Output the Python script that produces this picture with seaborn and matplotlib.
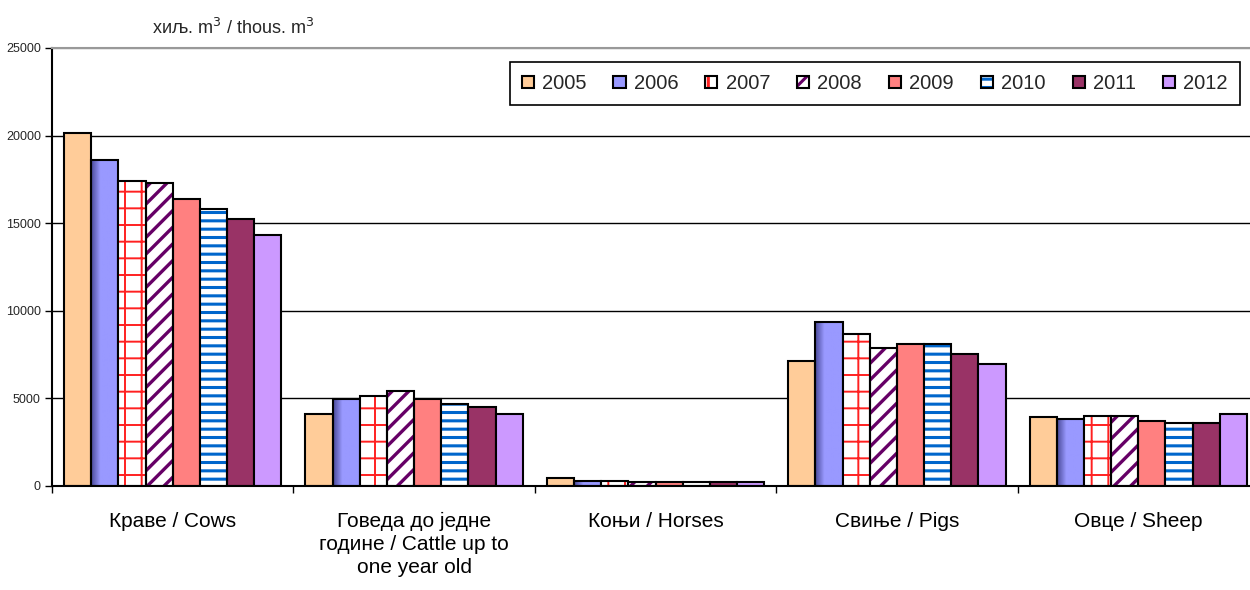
import numpy as np
import pandas as pd
import matplotlib
matplotlib.use("Agg")
import matplotlib.pyplot as plt
import matplotlib.patches as mpatches
from matplotlib.colors import LinearSegmentedColormap
import seaborn as sns

sns.set_theme(style="white")
plt.rcParams['font.family'] = ['Liberation Sans', 'DejaVu Sans']
plt.rcParams['hatch.linewidth'] = 2.2

# data (thousand m3)
categories = ['Краве / Cows',
              'Говеда до једне\nгодине / Cattle up to\none year old',
              'Коњи / Horses',
              'Свиње / Pigs',
              'Овце / Sheep']
years = ['2005', '2006', '2007', '2008', '2009', '2010', '2011', '2012']

v2005 = [20150, 4090, 440, 7150, 3960]
v2006 = [18600, 4970, 300, 9340, 3840]
v2007 = [17400, 5140, 300, 8660, 3980]
v2008 = [17310, 5420, 210, 7860, 3980]
v2009 = [16400, 4950, 210, 8100, 3730]
v2010 = [15830, 4660, 210, 8100, 3610]
v2011 = [15260, 4530, 210, 7550, 3610]
v2012 = [14340, 4090, 210, 6960, 4090]

colors = ['#FFCC99', '#9999FF', '#FFFFFF', '#FFFFFF',
          '#FF8080', '#FFFFFF', '#993366', '#CC99FF']
# hatch style per year: (pattern, line colour, line width)
hatches = {'2007': ('+', '#FF2020', 1.4),
           '2008': ('//', '#660066', 2.4),
           '2010': ('--', '#0066CC', 2.2)}

values = [v2005, v2006, v2007, v2008, v2009, v2010, v2011, v2012]
df = pd.DataFrame({
    'category': categories * len(years),
    'year': [y for y in years for _ in categories],
    'value': [v for vals in values for v in vals],
})

fig = plt.figure(figsize=(12.5, 5.9), dpi=100)
ax = fig.add_axes([52 / 1250, 104 / 590, 1207 / 1250, 438 / 590])

sns.barplot(data=df, x='category', y='value', hue='year', order=categories,
            hue_order=years, palette=colors, saturation=1, width=0.9,
            edgecolor='black', linewidth=1.5, legend=False, ax=ax)


def hatch_patch(p, h, hc, hw):
    p.set_facecolor('white')
    p.set_edgecolor(hc)
    p.set_linewidth(0)
    p.set_hatch(h)
    if hasattr(p, 'set_hatch_linewidth'):
        p.set_hatch_linewidth(hw)


# hatched bars: hatch in colour, black outline drawn on top
for year, cont in zip(years, ax.containers):
    if year in hatches:
        h, hc, hw = hatches[year]
        for bar in cont:
            hatch_patch(bar, h, hc, hw)
            ax.add_patch(mpatches.Rectangle(bar.get_xy(), bar.get_width(), bar.get_height(),
                                            fill=False, edgecolor='black', lw=1.5, zorder=1.1))

# 2006 bars have a shaded left edge
grad = LinearSegmentedColormap.from_list('g', ['#4A4A99', '#9999FF', '#9999FF', '#9999FF'])
for bar in ax.containers[1]:
    x0, y0 = bar.get_xy()
    w, hgt = bar.get_width(), bar.get_height()
    ax.imshow(np.linspace(0, 1, 64)[None, :], cmap=grad, aspect='auto',
              extent=[x0, x0 + w, y0, y0 + hgt], zorder=0.9, interpolation='bilinear')
    bar.set_facecolor('none')

ax.set_xlim(-0.5, len(categories) - 0.5)
ax.set_ylim(0, 25000)
ax.set_yticks(np.arange(0, 25001, 5000))
ax.set_yticklabels([str(t) for t in range(0, 25001, 5000)], fontsize=9)
ax.set_xticks(range(len(categories)))
ax.set_xticklabels(categories, fontsize=15)
for lab in ax.get_xticklabels():
    lab.set_linespacing(1.25)
ax.set_xticks(np.arange(-0.5, len(categories) - 0.4, 1), minor=True)
ax.tick_params(axis='x', which='major', length=0, pad=19, colors='black')
ax.tick_params(axis='x', which='minor', bottom=True, length=5, width=1, direction='out', color='black')
ax.tick_params(axis='y', left=True, length=5, width=1, direction='out', color='black', pad=3)
ax.set_xlabel('')
ax.set_ylabel('')

ax.set_axisbelow(True)
ax.yaxis.grid(True, color='black', lw=1)
ax.get_ygridlines()[-1].set_color('#999999')
for s in ['left', 'bottom']:
    ax.spines[s].set_color('black')
    ax.spines[s].set_linewidth(1.5)
ax.spines['right'].set_visible(False)
ax.spines['top'].set_color('#999999')
ax.spines['top'].set_linewidth(1.5)

fig.text(233 / 1250, 1 - 27 / 590, 'хиљ. m$^3$ / thous. m$^3$', fontsize=13,
         ha='center', va='center')

# legend
handles = []
for year, c in zip(years, colors):
    if year in hatches:
        h, hc, hw = hatches[year]
        hp = mpatches.Patch()
        hatch_patch(hp, h, hc, hw)
        handles.append((hp, mpatches.Patch(fill=False, edgecolor='black', lw=1.5)))
    else:
        handles.append(mpatches.Patch(facecolor=c, edgecolor='black', lw=1.5))
leg = fig.legend(handles, years, loc='upper right', bbox_to_anchor=(1240 / 1250, 1 - 62 / 590),
                 ncol=8, fontsize=14.5, frameon=True, fancybox=False, framealpha=1,
                 edgecolor='black', handlelength=0.6, handleheight=0.6,
                 handletextpad=0.4, columnspacing=1.35, borderpad=0.6, borderaxespad=0)
leg.get_frame().set_linewidth(1.2)

fig.savefig('out.png', dpi=100)
